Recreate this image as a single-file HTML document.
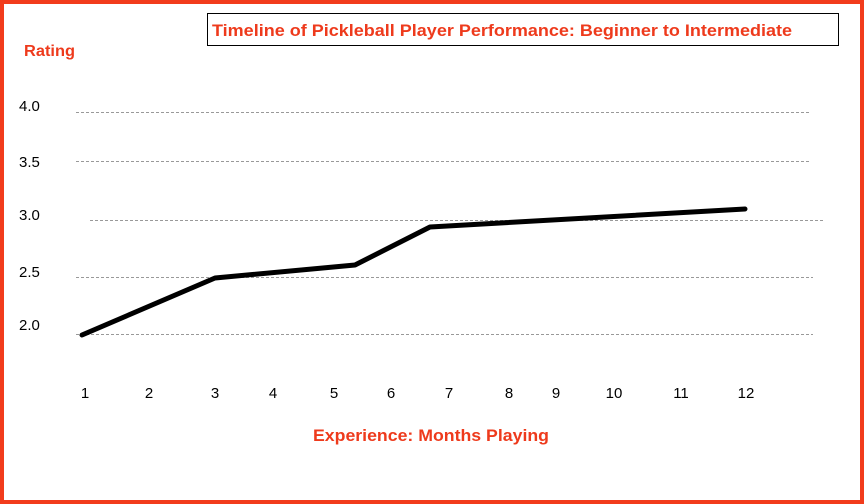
<!DOCTYPE html>
<html><head><style>
html,body{margin:0;padding:0;background:#fff}
svg{display:block}
text{font-family:"Liberation Sans",Arial,sans-serif}
</style></head><body>
<svg width="864" height="504" viewBox="0 0 864 504">
<rect x="2" y="2" width="860" height="500" fill="#fff" stroke="#f23c1c" stroke-width="4"/>
<rect x="207.5" y="13.5" width="631" height="32" fill="#fff" stroke="#000" stroke-width="1"/>
<text x="212" y="36" font-size="17" font-weight="bold" fill="#ee3a1c" textLength="580" lengthAdjust="spacingAndGlyphs">Timeline of Pickleball Player Performance: Beginner to Intermediate</text>
<text x="24" y="56" font-size="16" font-weight="bold" fill="#ee3a1c" textLength="51" lengthAdjust="spacingAndGlyphs">Rating</text>
<g stroke="#999" stroke-width="1" stroke-dasharray="3,2">
<line x1="76" y1="112.5" x2="810" y2="112.5"/>
<line x1="76" y1="161.5" x2="810" y2="161.5"/>
<line x1="90" y1="220.5" x2="823" y2="220.5"/>
<line x1="76" y1="277.5" x2="813" y2="277.5"/>
<line x1="76" y1="334.5" x2="813" y2="334.5"/>
</g>
<g font-size="15" fill="#000">
<text x="19" y="111">4.0</text>
<text x="19" y="167">3.5</text>
<text x="19" y="220">3.0</text>
<text x="19" y="277">2.5</text>
<text x="19" y="330">2.0</text>
</g>
<polyline points="82,335 215,278 355,265 430,227 745,209" fill="none" stroke="#000" stroke-width="5" stroke-linejoin="round" stroke-linecap="round"/>
<g font-size="15" fill="#000" text-anchor="middle">
<text x="85" y="398">1</text><text x="149" y="398">2</text><text x="215" y="398">3</text>
<text x="273" y="398">4</text><text x="334" y="398">5</text><text x="391" y="398">6</text>
<text x="449" y="398">7</text><text x="509" y="398">8</text><text x="556" y="398">9</text>
<text x="614" y="398">10</text><text x="681" y="398">11</text><text x="746" y="398">12</text>
</g>
<text x="313" y="441" font-size="17" font-weight="bold" fill="#ee3a1c" textLength="236" lengthAdjust="spacingAndGlyphs">Experience: Months Playing</text>
</svg>
</body></html>
